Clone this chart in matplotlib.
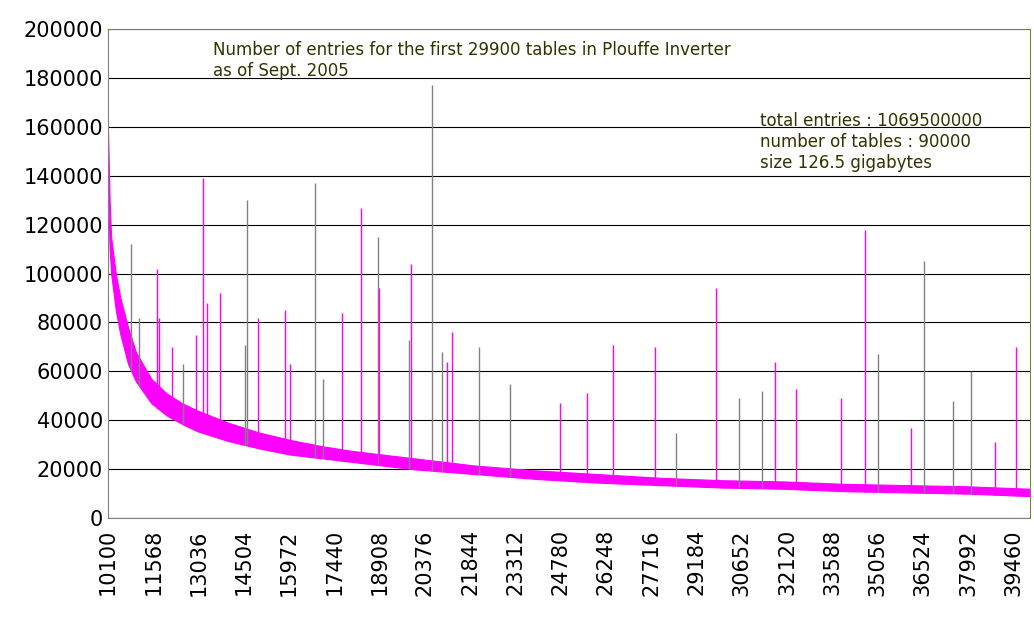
import numpy as np
import matplotlib.pyplot as plt

# band of entries per table (upper and lower edge of the dense trace)
band_x = [10100, 10150, 10200, 10350, 10500, 10750, 11000, 11500, 12000, 12500, 13000,
          14000, 15000, 16000, 17000, 18000, 19000, 20000, 22000, 24000, 26000,
          28000, 30000, 32000, 34000, 36000, 38000, 40000]
band_top = [158000, 130000, 115000, 100000, 90000, 78000, 68000, 57000, 51000, 47000, 44000,
            39000, 35000, 32000, 29500, 27500, 26000, 24500, 21500, 19500, 18000,
            16500, 15500, 15000, 14000, 13500, 13000, 12000]
band_low = [135000, 110000, 100000, 85000, 75000, 63000, 56000, 47000, 42000, 38500, 35500,
            31500, 28500, 26000, 24500, 23000, 21500, 20000, 18000, 16000, 14500,
            13500, 12500, 12000, 11000, 10500, 10000, 9000]

# isolated spikes: table number, height, colour ('m' magenta, 'g' gray)
spike_x = [10850, 11100, 11690, 11750, 12170, 12520, 12940, 13175, 13300, 13725, 14540, 14600,
           14955, 15830, 15990, 16800, 17060, 17700, 18320, 18870, 18900, 19870, 19940,
           20620, 20940, 21090, 21250, 22130, 23130, 24750, 25620, 26480, 27840, 28520,
           29810, 30550, 31300, 31720, 32420, 33870, 34640, 35090, 36160, 36580, 37520,
           38100, 38880, 39560]
spike_h = [112000, 82000, 102000, 82000, 70000, 63000, 75000, 139000, 88000, 92000, 71000, 130000,
           82000, 85000, 63000, 137000, 57000, 84000, 127000, 115000, 94000, 73000, 104000,
           177000, 68000, 64000, 76000, 70000, 55000, 47000, 51000, 71000, 70000, 35000,
           94000, 49000, 52000, 64000, 53000, 49000, 118000, 67000, 37000, 105000, 48000,
           60000, 31000, 70000]
spike_c = ['g', 'g', 'm', 'm', 'm', 'g', 'm', 'm', 'm', 'm', 'g', 'g',
           'm', 'm', 'm', 'g', 'g', 'm', 'm', 'g', 'm', 'g', 'm',
           'g', 'g', 'm', 'm', 'g', 'g', 'm', 'm', 'm', 'm', 'g',
           'm', 'g', 'g', 'm', 'm', 'm', 'm', 'g', 'm', 'g', 'g',
           'g', 'm', 'm']

xticks = list(range(10100, 40000, 1468))

fig = plt.figure(figsize=(10.34, 6.19), dpi=100)
ax = fig.add_axes([0.1045, 0.163, 0.8915, 0.79])

ax.fill_between(band_x, band_low, band_top, color='#ff00ff', lw=0.8, edgecolor='#ff00ff')
colors = {'m': '#ff00ff', 'g': '#808080'}
spike_base = np.interp(spike_x, band_x, band_low)
for x, b, h, c in zip(spike_x, spike_base, spike_h, spike_c):
    ax.vlines(x, b, h, color=colors[c], lw=1)

ax.set_xlim(10100, 40000)
ax.set_ylim(0, 200000)
ax.set_yticks(range(0, 200001, 20000))
ax.set_xticks(xticks)
ax.set_xticklabels([str(t) for t in xticks], rotation=90, fontsize=15)
ax.tick_params(axis='y', labelsize=15, length=0)
ax.tick_params(axis='x', length=0, pad=8)
ax.yaxis.grid(True, color='black', lw=0.8)
ax.set_axisbelow(True)
for s in ['top', 'right']:
    ax.spines[s].set_color('#808040')
ax.spines['left'].set_color('#808080')
ax.spines['bottom'].set_color('#808080')

ax.text(0.114, 0.975, 'Number of entries for the first 29900 tables in Plouffe Inverter\nas of Sept. 2005',
        transform=ax.transAxes, va='top', fontsize=12, color='#333300')
ax.text(0.707, 0.83, 'total entries : 1069500000\nnumber of tables : 90000\nsize 126.5 gigabytes',
        transform=ax.transAxes, va='top', fontsize=12, color='#333300')

fig.savefig('out.png')
